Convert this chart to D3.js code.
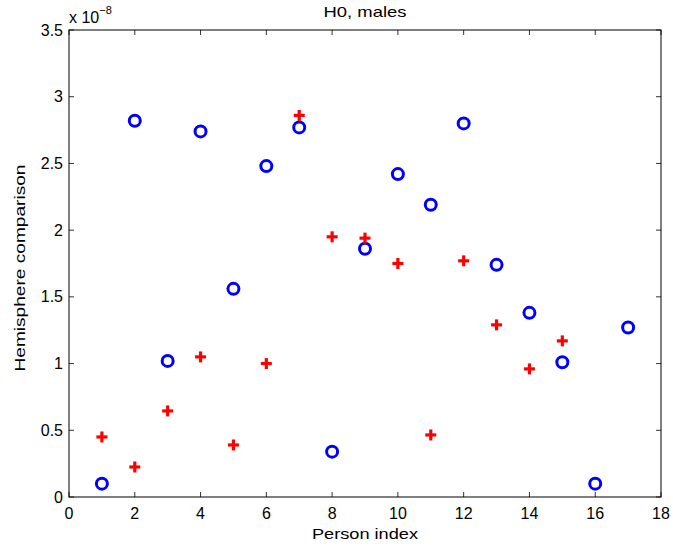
<!DOCTYPE html>
<html><head><meta charset="utf-8">
<script src="https://cdn.jsdelivr.net/npm/d3@7"></script>
<style>body{margin:0;background:#fff}svg{display:block}text{font-family:"Liberation Sans",Arial,Helvetica,sans-serif}</style>
</head><body><svg id="c" width="673" height="549"></svg>
<script>
const personIdx = [1,2,3,4,5,6,7,8,9,10,11,12,13,14,15,16,17];
const circleVals = [0.10,2.82,1.02,2.74,1.56,2.48,2.77,0.34,1.86,2.42,2.19,2.80,1.74,1.38,1.01,0.10,1.27];
const plusIdx = [1,2,3,4,5,6,7,8,9,10,11,12,13,14,15];
const plusVals = [0.45,0.225,0.645,1.05,0.39,1.00,2.86,1.95,1.94,1.75,0.465,1.77,1.29,0.96,1.17];
const xTicks = [0,2,4,6,8,10,12,14,16,18];
const yTicks = [0,0.5,1,1.5,2,2.5,3,3.5];
const yTickLabels = ["0","0.5","1","1.5","2","2.5","3","3.5"];

const svg = d3.select("#c");
const L=69, R=661, T=30, B=497;
const x = d3.scaleLinear().domain([0,18]).range([L,R]);
const y = d3.scaleLinear().domain([0,3.5]).range([B,T]);
const fsT = 16, fsL = 15;

// ticks inward (all four sides)
const tk = svg.append("g").attr("stroke","#333").attr("stroke-width",1);
xTicks.forEach(v=>{
  tk.append("line").attr("x1",x(v)).attr("x2",x(v)).attr("y1",B).attr("y2",B-5);
  tk.append("line").attr("x1",x(v)).attr("x2",x(v)).attr("y1",T).attr("y2",T+5);
});
yTicks.forEach(v=>{
  tk.append("line").attr("x1",L).attr("x2",L+5).attr("y1",y(v)).attr("y2",y(v));
  tk.append("line").attr("x1",R).attr("x2",R-5).attr("y1",y(v)).attr("y2",y(v));
});
svg.append("rect").attr("x",L).attr("y",T).attr("width",R-L).attr("height",B-T)
  .attr("fill","none").attr("stroke","#000").attr("stroke-width",1);

// tick labels
svg.append("g").selectAll("text").data(xTicks).join("text")
  .attr("x",d=>x(d)).attr("y",519).attr("text-anchor","middle").attr("font-size",fsT).text(d=>d);
svg.append("g").selectAll("text").data(yTicks).join("text")
  .attr("x",L-6).attr("y",d=>y(d)+5.5).attr("text-anchor","end").attr("font-size",fsT).text((d,i)=>yTickLabels[i]);

// exponent
const ex = svg.append("text").attr("x",L).attr("y",22.5).attr("font-size",fsT);
ex.append("tspan").text("x 10");
ex.append("tspan").attr("dy",-9).attr("font-size",11).text("\u22128");

// titles
svg.append("text").attr("x",(L+R)/2).attr("y",17).attr("text-anchor","middle").attr("font-size",fsL)
  .attr("textLength",83).attr("lengthAdjust","spacingAndGlyphs").text("H0, males");
svg.append("text").attr("x",(L+R)/2).attr("y",539).attr("text-anchor","middle").attr("font-size",fsL)
  .attr("textLength",106).attr("lengthAdjust","spacingAndGlyphs").text("Person index");
svg.append("text").attr("transform",`translate(25,268) rotate(-90)`).attr("text-anchor","middle").attr("font-size",fsL)
  .attr("textLength",207).attr("lengthAdjust","spacingAndGlyphs").text("Hemisphere comparison");

// markers
svg.append("g").selectAll("circle").data(personIdx).join("circle")
  .attr("cx",d=>x(d)).attr("cy",(d,i)=>y(circleVals[i])).attr("r",5.5)
  .attr("fill","none").attr("stroke","#0000ff").attr("stroke-width",3);
const pg = svg.append("g").attr("stroke","#ff0000").attr("stroke-width",3.2);
plusIdx.forEach((d,i)=>{
  const cx=x(d), cy=y(plusVals[i]), h=5.5;
  pg.append("line").attr("x1",cx-h).attr("x2",cx+h).attr("y1",cy).attr("y2",cy);
  pg.append("line").attr("x1",cx).attr("x2",cx).attr("y1",cy-h).attr("y2",cy+h);
});
</script></body></html>
